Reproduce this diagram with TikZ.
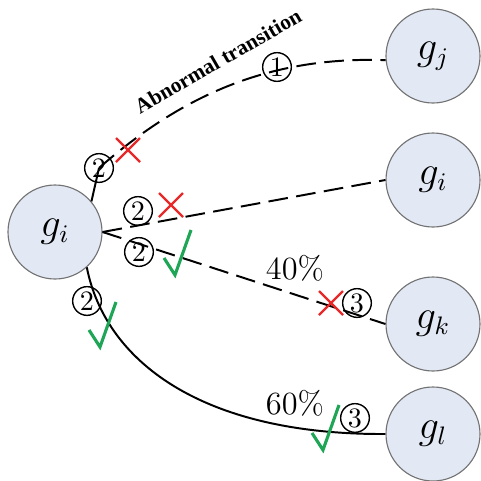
\documentclass[tikz,border=0pt]{standalone}
\usepackage{amsmath}
\usepackage{fontspec}
\newfontfamily\boldlabel{Liberation Serif}
\usepackage{tikz}

\definecolor{gfill}{RGB}{226,233,245}
\definecolor{crossred}{RGB}{232,40,40}
\definecolor{checkgreen}{RGB}{30,165,85}

\tikzset{
  gnode/.style={circle, draw=black!55, fill=gfill, minimum size=11.75mm, inner sep=0pt,
    font=\fontsize{13.5}{13.5}\selectfont},
  stage/.style={circle, draw, minimum size=10.2pt, inner sep=0pt, line width=0.5pt,
    font=\fontsize{10}{10}\selectfont},
  link/.style={line width=0.7pt},
  abnormal/.style={link, dash pattern=on 7pt off 3pt},
  redcross/.pic={\draw[crossred, line width=0.85pt] (-12,-12) -- (12,12) (-12,12) -- (12,-12);},
  greencheck/.pic={\draw[checkgreen, line width=1.1pt] (-11,-17) -- (0,0) -- (16,-45);}
}

\begin{document}
\begin{tikzpicture}[x=0.125mm, y=-0.125mm]
    \useasboundingbox (0,0) rectangle (481,481);

    % Groups
    \node[gnode] (gi)  at (55,232)  {$g_i$};
    \node[gnode] (gj)  at (433,56)  {$g_j$};
    \node[gnode] (gir) at (433,180) {$g_i$};
    \node[gnode] (gk)  at (433,324) {$g_k$};
    \node[gnode] (gl)  at (433,434) {$g_l$};

    % Stage numbers on the transitions
    \node[stage] (tA) at (99,168)  {2};
    \node[stage] (tB) at (277,67)  {1};
    \node[stage] (tC) at (138,211) {2};
    \node[stage] (tD) at (139,252) {2};
    \node[stage] (tE) at (357,303) {3};
    \node[stage] (tF) at (87,301)  {2};
    \node[stage] (tG) at (355,418) {3};

    % Transitions
    \draw[link] (gi.40) -- (tA.center);
    \draw[abnormal] (tA.center) .. controls (179,98) and (266,56) .. (gj.185);
    \draw[abnormal] (gi.east) -- (gir.west);
    \draw[abnormal] (gi.east) -- (gk.west);
    \draw[link] (gi.-48) .. controls (105,360) and (200,435) .. (gl.west);

    % Labels
    \node[rotate=30, font=\boldlabel\bfseries\fontsize{7.6}{7.6}\selectfont] (abn) at (218,61) {Abnormal transition};
    \node[font=\fontsize{11.5}{11.5}\selectfont] (p40) at (295,268) {40\%};
    \node[font=\fontsize{11.5}{11.5}\selectfont] (p60) at (295,403) {60\%};

    % Marks
    \pic at (128,150) {redcross};
    \pic at (171,205) {redcross};
    \pic at (331,303) {redcross};
    \pic at (175,275) {greencheck};
    \pic at (100,347) {greencheck};
    \pic at (323,450) {greencheck};
\end{tikzpicture}
\end{document}
